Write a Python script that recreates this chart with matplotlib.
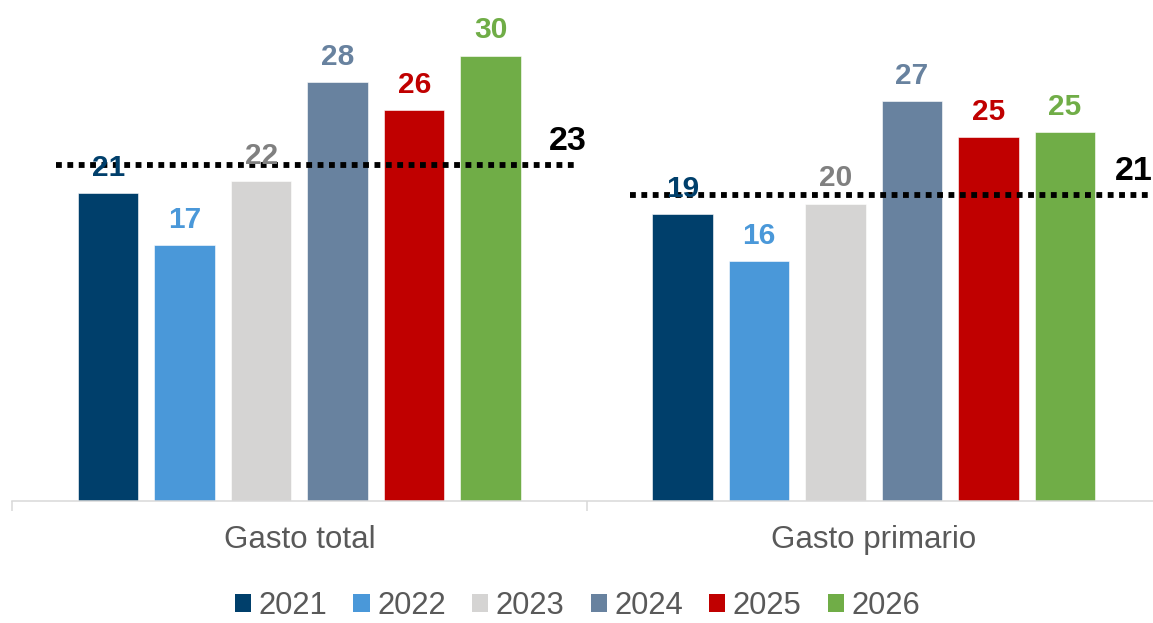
import matplotlib
matplotlib.use("Agg")
import matplotlib.pyplot as plt
import numpy as np

plt.rcParams['font.family'] = ['Liberation Sans', 'DejaVu Sans']

# Data
categories = ["Gasto total", "Gasto primario"]
years = ["2021", "2022", "2023", "2024", "2025", "2026"]
values = {
    "2021": [20.8, 19.4],
    "2022": [17.3, 16.2],
    "2023": [21.6, 20.1],
    "2024": [28.3, 27.0],
    "2025": [26.4, 24.6],
    "2026": [30.1, 24.9],
}
averages = [22.7, 20.7]

bar_colors = ["#003F6B", "#4A98D9", "#D5D4D3", "#68829F", "#C00000", "#70AD47"]
label_colors = ["#003F6B", "#4A98D9", "#808080", "#68829F", "#C00000", "#70AD47"]

W, H = 1153, 623
fig = plt.figure(figsize=(W / 100, H / 100), dpi=100)
ax_left = 12.25 / W
ax_bottom = (H - 501) / H
ax = fig.add_axes([ax_left, ax_bottom, 1148.75 / W, 1 - ax_bottom])

x = np.arange(len(categories))
pitch = 0.1332
width = 0.1053

for i, yr in enumerate(years):
    offs = (i - (len(years) - 1) / 2) * pitch
    bars = ax.bar(x + offs, values[yr], width=width, color=bar_colors[i],
                  edgecolor="white", linewidth=0.4, label=yr, zorder=2)
    for b, v in zip(bars, values[yr]):
        ax.annotate(f"{v:.0f}", (b.get_x() + b.get_width() / 2, v),
                    xytext=(0, 12.5), textcoords="offset points",
                    ha="center", va="baseline", fontsize=21.5,
                    fontweight="bold", color=label_colors[i], zorder=4)

# Reference average lines with their labels at the right end
label_dx = [0.467, 0.452]
for xi, avg, dx in zip(x, averages, label_dx):
    ax.plot([xi - 0.424, xi + 0.48], [avg, avg], color="black",
            linewidth=4.2, linestyle=(0, (1.0, 0.95)),
            dash_capstyle="butt", zorder=3)
    ax.annotate(f"{avg:.0f}", (xi + dx, avg), xytext=(0, 10.5),
                textcoords="offset points", ha="center", va="baseline",
                fontsize=24.5, fontweight="bold", color="black", zorder=4)

ax.set_xlim(-0.5, len(categories) - 0.5)
ax.set_ylim(0, 501 / 14.8)

for s in ["top", "right", "left"]:
    ax.spines[s].set_visible(False)
ax.spines["bottom"].set_color("#D9D9D9")
ax.spines["bottom"].set_linewidth(1.1)
ax.set_yticks([])

ax.set_xticks(x)
ax.set_xticklabels(categories, fontsize=22.5, color="#595959")
ax.tick_params(axis="x", which="major", length=0, pad=17)
ax.set_xticks(np.arange(-0.5, len(categories)), minor=True)
ax.tick_params(axis="x", which="minor", length=7.5, width=1.1,
               color="#D9D9D9", direction="out")

handles, labels = ax.get_legend_handles_labels()
leg = fig.legend(handles, labels, loc="center", ncol=6,
                 bbox_to_anchor=(577.5 / W, 1 - 606 / H),
                 frameon=False, fontsize=22.3, handlelength=0.52,
                 handleheight=0.52, handletextpad=0.24, columnspacing=0.85,
                 borderpad=0, borderaxespad=0)
for t in leg.get_texts():
    t.set_color("#595959")
for p in leg.legend_handles:
    p.set_linewidth(0)

fig.savefig("out.png", dpi=100)
